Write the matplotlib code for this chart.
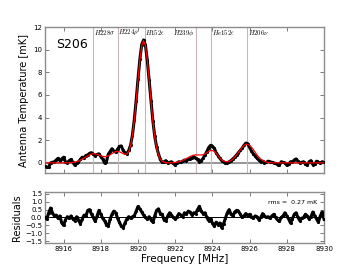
import numpy as np
import matplotlib
matplotlib.use("Agg")
import matplotlib.pyplot as plt

plt.rcParams['mathtext.fontset'] = 'cm'

# channel frequencies [MHz], 0.1 MHz spacing
freq = np.linspace(8915.0, 8930.0, 151)

# observed spectrum [mK]
spectrum = [
    -0.30, -0.40, -0.35, 0.00, 0.05, 0.10, 0.25, 0.40, 0.20, 0.35,
    0.50, 0.10, 0.00, 0.20, 0.30, 0.05, -0.20, -0.05, 0.10, 0.30,
    0.50, 0.45, 0.65, 0.70, 0.85, 0.90, 0.75, 0.65, 0.75, 0.80,
    0.55, 0.35, 0.00, 0.10, 0.75, 1.00, 1.25, 1.05, 0.95, 1.20,
    1.45, 1.50, 1.10, 0.90, 0.80, 1.10, 1.55, 2.45, 3.80, 5.50,
    7.40, 9.15, 10.45, 10.85, 10.40, 9.05, 7.30, 5.45, 3.70, 2.35,
    1.40, 0.80, 0.30, 0.05, 0.10, 0.20, 0.00, 0.05, 0.10, -0.05,
    -0.20, 0.00, 0.10, 0.05, 0.15, 0.25, 0.20, 0.30, 0.35, 0.45,
    0.55, 0.40, 0.30, 0.10, 0.20, 0.40, 0.70, 1.00, 1.35, 1.55,
    1.45, 1.30, 0.90, 0.65, 0.40, 0.20, 0.10, 0.00, 0.00, 0.10,
    0.20, 0.35, 0.50, 0.70, 0.90, 1.10, 1.30, 1.55, 1.75, 1.70,
    1.35, 1.05, 0.80, 0.60, 0.40, 0.25, 0.10, 0.15, 0.00, 0.05,
    0.15, 0.10, 0.05, 0.00, -0.05, -0.15, -0.20, 0.10, 0.05, 0.00,
    -0.20, -0.10, 0.10, 0.10, 0.25, 0.35, 0.15, 0.00, 0.05, 0.10,
    -0.10, -0.20, 0.10, 0.20, -0.15, -0.10, 0.15, 0.05, 0.00, 0.10,
    0.05,
]

# fitted model [mK]
model = [
    0.00, 0.00, 0.00, 0.00, 0.00, 0.00, 0.00, 0.00, 0.00, 0.00,
    0.00, 0.00, 0.01, 0.01, 0.02, 0.04, 0.07, 0.11, 0.16, 0.24,
    0.33, 0.43, 0.54, 0.64, 0.72, 0.78, 0.81, 0.79, 0.75, 0.68,
    0.62, 0.57, 0.55, 0.56, 0.62, 0.72, 0.82, 0.92, 0.99, 1.01,
    0.98, 0.90, 0.81, 0.75, 0.79, 1.00, 1.52, 2.42, 3.74, 5.45,
    7.35, 9.09, 10.35, 10.80, 10.35, 9.08, 7.32, 5.41, 3.66, 2.28,
    1.30, 0.68, 0.33, 0.14, 0.06, 0.02, 0.01, 0.01, 0.01, 0.02,
    0.04, 0.06, 0.09, 0.14, 0.21, 0.29, 0.38, 0.47, 0.56, 0.63,
    0.68, 0.71, 0.71, 0.70, 0.70, 0.72, 0.79, 0.90, 1.01, 1.09,
    1.09, 1.01, 0.84, 0.63, 0.43, 0.26, 0.16, 0.11, 0.10, 0.14,
    0.21, 0.34, 0.50, 0.70, 0.93, 1.17, 1.38, 1.55, 1.64, 1.64,
    1.55, 1.38, 1.17, 0.93, 0.70, 0.50, 0.34, 0.21, 0.13, 0.07,
    0.04, 0.02, 0.01, 0.00, 0.00, 0.00, 0.00, 0.00, 0.00, 0.00,
    0.00, 0.00, 0.00, 0.00, 0.00, 0.00, 0.00, 0.00, 0.00, 0.00,
    0.00, 0.00, 0.00, 0.00, 0.00, 0.00, 0.00, 0.00, 0.00, 0.00,
    0.00,
]

# fit residuals [mK]
residuals = [
    0.00, -0.10, 0.30, 0.60, 0.30, 0.10, 0.15, -0.05, 0.10, -0.35,
    -0.50, -0.15, 0.05, -0.05, 0.10, -0.10, -0.20, 0.05, -0.15, -0.40,
    -0.10, 0.15, 0.10, 0.45, 0.50, 0.20, 0.00, -0.25, 0.10, 0.45,
    0.20, -0.05, -0.20, -0.45, -0.55, -0.10, 0.20, 0.40, 0.30, -0.05,
    -0.30, -0.55, -0.65, -0.35, -0.10, 0.05, -0.05, 0.05, 0.10, 0.40,
    0.70, 0.55, 0.35, 0.15, 0.00, -0.10, 0.05, -0.15, -0.30, 0.10,
    0.45, 0.55, 0.25, 0.20, -0.15, -0.20, 0.10, 0.30, 0.15, 0.00,
    -0.10, 0.05, 0.25, 0.15, 0.05, 0.30, 0.20, 0.40, 0.35, 0.15,
    0.30, 0.25, 0.50, 0.70, 0.40, 0.25, 0.30, 0.00, -0.20, -0.10,
    -0.35, -0.55, -0.30, -0.45, -0.35, -0.65, -0.40, -0.05, 0.30, 0.50,
    0.20, 0.10, 0.35, 0.45, 0.40, 0.20, 0.00, 0.10, 0.25, 0.10,
    0.20, 0.05, -0.05, 0.10, 0.05, -0.15, 0.00, 0.25, 0.10, 0.00,
    0.05, -0.05, 0.10, 0.20, 0.00, -0.15, -0.25, 0.00, 0.10, 0.30,
    0.10, -0.10, -0.35, -0.10, 0.20, 0.30, 0.00, -0.20, -0.05, 0.00,
    0.20, 0.10, -0.10, 0.05, 0.35, 0.10, -0.10, -0.30, 0.10, 0.35,
    -0.10,
]

# recombination line positions and labels
line_freqs = [8917.6, 8918.9, 8920.35, 8923.1, 8923.95, 8925.85]
line_labels = [r'$H228\sigma$', r'$H224\rho$', r'$H152\epsilon$',
               r'$H239\phi$', r'$He152\epsilon$', r'$H206\nu$']
# label sits right of its line, except where it would collide
label_side = ['right', 'right', 'right', 'left', 'right', 'right']


def style_axes(ax):
    for sp in ax.spines.values():
        sp.set_color('0.55')
        sp.set_linewidth(1.0)
    ax.tick_params(direction='in', top=True, right=True, length=3,
                   width=0.6, color='0.4', labelsize=5, pad=2)


fig = plt.figure(figsize=(3.6, 2.7), dpi=100)
ax1 = fig.add_axes([0.125, 0.359, 0.775, 0.541])
ax2 = fig.add_axes([0.125, 0.101, 0.775, 0.187])

# --- top: spectrum + model ---
ax1.axhline(0, color='0.6', lw=1.5, zorder=1)
for f, lab, side in zip(line_freqs, line_labels, label_side):
    ax1.axvline(f, color='#c9b6b6', lw=0.8, zorder=1)
    dx = 0.04 if side == 'right' else -0.04
    ax1.text(f + dx, 11.95, lab, fontsize=4.8, va='top',
             ha='left' if side == 'right' else 'right')
ax1.plot(freq, spectrum, color='black', lw=2.2, marker='.', markersize=2.5, zorder=3)
ax1.plot(freq, model, color='red', lw=0.9, zorder=4)
ax1.text(0.04, 0.88, 'S206', transform=ax1.transAxes, fontsize=9, va='center')
ax1.set_xlim(8915, 8930)
ax1.set_ylim(-0.9, 12)
ax1.set_yticks(np.arange(0, 13, 2))
ax1.set_xticks(np.arange(8916, 8931, 2))
ax1.set_xticklabels([])
ax1.set_ylabel('Antenna Temperature [mK]', fontsize=7, labelpad=3)
style_axes(ax1)

# --- bottom: residuals ---
ax2.axhline(0, color='black', lw=0.7, zorder=1)
ax2.plot(freq, residuals, color='black', lw=2.2, marker='.', markersize=2.5, zorder=3)
ax2.text(0.975, 0.80, 'rms =  0.27 mK', transform=ax2.transAxes,
         fontsize=4.5, ha='right', va='center')
ax2.set_xlim(8915, 8930)
ax2.set_ylim(-1.6, 1.6)
ax2.set_yticks(np.arange(-1.5, 1.6, 0.5))
ax2.set_xticks(np.arange(8916, 8931, 2))
ax2.set_xlabel('Frequency [MHz]', fontsize=7.5, labelpad=2)
ax2.set_ylabel('Residuals', fontsize=7, labelpad=2)
style_axes(ax2)

fig.savefig('out.png', dpi=100)
